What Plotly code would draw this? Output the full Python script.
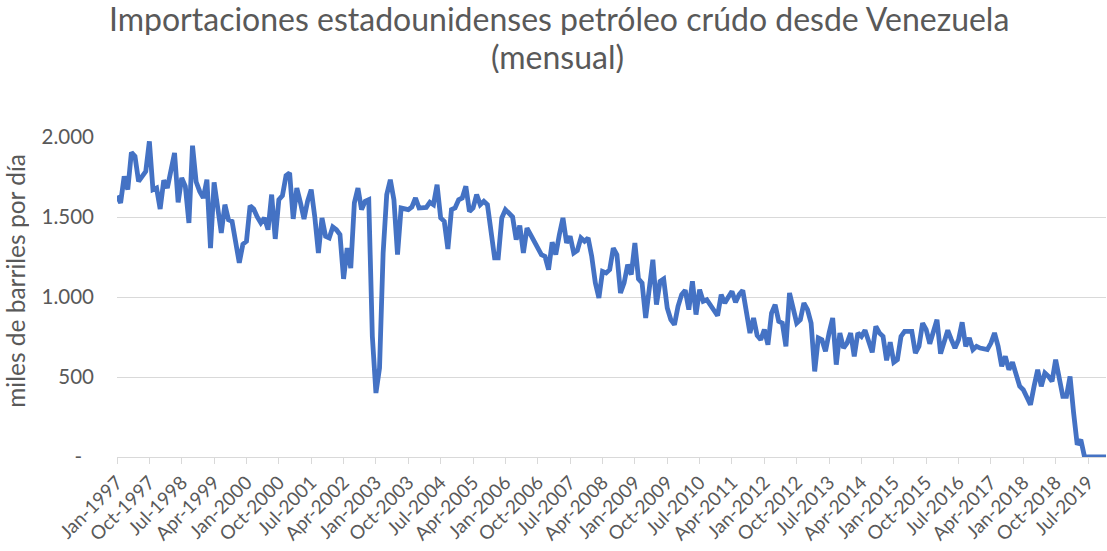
import plotly.graph_objects as go

months = ["Jan", "Feb", "Mar", "Apr", "May", "Jun", "Jul", "Aug", "Sep", "Oct", "Nov", "Dec"]
years = list(range(1997, 2020))
categories = [f"{m}-{y}" for y in years for m in months]

imports_kbd = [
    1633, 1588, 1754, 1671, 1904, 1879, 1723, 1760, 1785, 1973, 1671, 1681,
    1550, 1729, 1681, 1790, 1900, 1592, 1744, 1692, 1463, 1946, 1720, 1660,
    1619, 1733, 1306, 1717, 1535, 1400, 1577, 1483, 1473, 1350, 1213, 1330,
    1348, 1571, 1550, 1500, 1463, 1494, 1421, 1640, 1363, 1608, 1633, 1758,
    1775, 1488, 1681, 1590, 1488, 1600, 1671, 1500, 1275, 1494, 1379, 1369,
    1438, 1420, 1390, 1113, 1306, 1181, 1588, 1681, 1546, 1598, 1608, 754,
    400, 556, 1275, 1640, 1733, 1608, 1265, 1556, 1550, 1546, 1563, 1619,
    1556, 1556, 1560, 1592, 1577, 1702, 1494, 1473, 1300, 1546, 1556, 1608,
    1619, 1692, 1535, 1556, 1640, 1577, 1598, 1577, 1379, 1244, 1244, 1494,
    1546, 1525, 1500, 1358, 1446, 1275, 1431, 1390, 1350, 1317, 1265, 1254,
    1171, 1342, 1265, 1390, 1494, 1338, 1379, 1275, 1290, 1369, 1348, 1369,
    1254, 1088, 994, 1160, 1150, 1171, 1306, 1265, 1025, 1088, 1202, 1140,
    1338, 1113, 1088, 869, 1046, 1233, 952, 1098, 1113, 931, 858, 827,
    942, 1015, 1042, 921, 1098, 890, 1046, 973, 983, 950, 917, 883,
    1015, 962, 1000, 1035, 967, 1015, 1042, 900, 775, 869, 760, 733,
    796, 702, 900, 952, 848, 837, 692, 1025, 942, 837, 858, 962,
    921, 837, 535, 744, 733, 660, 775, 869, 577, 775, 681, 712,
    775, 629, 775, 754, 792, 723, 654, 817, 775, 754, 604, 717,
    592, 608, 754, 785, 785, 785, 650, 692, 837, 796, 708, 775,
    858, 646, 733, 792, 733, 681, 733, 842, 692, 744, 671, 692,
    681, 675, 671, 712, 775, 692, 567, 629, 546, 592, 525, 442,
    421, 380, 327, 442, 546, 442, 525, 504, 473, 608, 483, 379,
    379, 504, 275, 77, 108, 4, 0, 0, 0, 0, 0, 0,
]

x_tick_labels = categories[::9]
y_tick_values = [0, 500, 1000, 1500, 2000]
y_tick_labels = ["-\u2007", "500", "1.000", "1.500", "2.000"]

title_line1 = "Importaciones estadounidenses petróleo crúdo desde Venezuela"
title_line2 = "(mensual)"
y_title = "miles de barriles por día"

font_family = "Lato, Open Sans, sans-serif"
gray = "#595959"

fig = go.Figure()
fig.add_trace(go.Scatter(
    x=categories,
    y=imports_kbd,
    mode="lines",
    line=dict(color="#4472C4", width=4.8),
    hoverinfo="x+y",
))

fig.update_layout(
    width=1107,
    height=551,
    paper_bgcolor="white",
    plot_bgcolor="white",
    margin=dict(l=117, r=1, t=137, b=94, autoexpand=False),
    showlegend=False,
    font=dict(family=font_family, color=gray),
    annotations=[
        dict(text=title_line1, x=0.447, y=1.372, xref="paper", yref="paper",
             xanchor="center", yanchor="middle", showarrow=False, height=34,
             font=dict(family=font_family, size=32, color=gray)),
        dict(text=title_line2, x=0.445, y=1.253, xref="paper", yref="paper",
             xanchor="center", yanchor="middle", showarrow=False, height=34,
             font=dict(family=font_family, size=32, color=gray)),
        dict(text=y_title, x=-0.1026, y=0.549, xref="paper", yref="paper",
             xanchor="center", yanchor="middle", showarrow=False, textangle=-90,
             height=28, font=dict(family=font_family, size=24.5, color=gray)),
    ],
)

fig.update_xaxes(
    type="category",
    automargin=False,
    tickmode="array",
    tickvals=x_tick_labels,
    ticktext=x_tick_labels,
    tickangle=-45,
    range=[0, len(categories) - 1],
    showgrid=False,
    showline=True,
    linecolor="#d9d9d9",
    linewidth=1,
    ticks="outside",
    ticklen=6,
    tickcolor="#d9d9d9",
    tickfont=dict(family=font_family, size=19, color=gray),
    zeroline=False,
)

fig.update_yaxes(
    automargin=False,
    range=[0, 2000],
    tickmode="array",
    tickvals=y_tick_values,
    ticktext=y_tick_labels,
    showgrid=True,
    gridcolor="#d9d9d9",
    gridwidth=1,
    zeroline=False,
    showline=False,
    ticks="",
    ticklabelstandoff=22,
    tickfont=dict(family=font_family, size=20.5, color=gray),
)

fig.write_html("out.html", config={"displayModeBar": False},
               post_script="document.body.style.margin='0';")
